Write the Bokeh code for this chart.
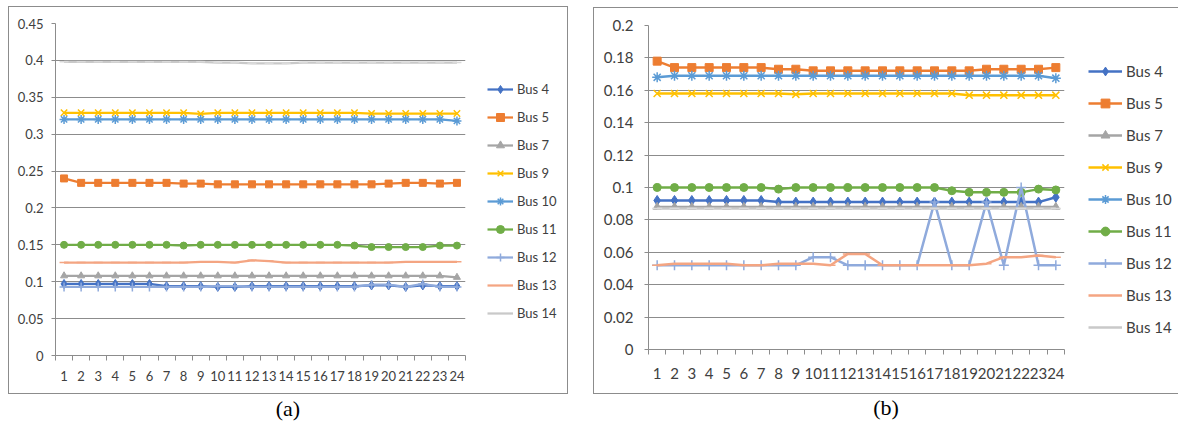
from bokeh.plotting import figure
from bokeh.models import FixedTicker, Legend, LegendItem, Range1d, Div
from bokeh.layouts import row, column
from bokeh.embed import file_html
from bokeh.resources import INLINE

hours = list(range(1, 25))
bus_names = ["Bus 4", "Bus 5", "Bus 7", "Bus 9", "Bus 10", "Bus 11", "Bus 12", "Bus 13", "Bus 14"]

# ---- panel (a) ----
a_bus4 = [0.097, 0.097, 0.097, 0.097, 0.097, 0.097, 0.094, 0.094, 0.094, 0.093, 0.093, 0.094,
          0.094, 0.094, 0.094, 0.094, 0.094, 0.094, 0.095, 0.095, 0.093, 0.095, 0.094, 0.094]
a_bus5 = [0.240, 0.234, 0.234, 0.234, 0.234, 0.234, 0.234, 0.233, 0.233, 0.232, 0.232, 0.232,
          0.232, 0.232, 0.232, 0.232, 0.232, 0.232, 0.232, 0.233, 0.234, 0.234, 0.233, 0.234]
a_bus7 = [0.108] * 23 + [0.106]
a_bus9 = [0.329, 0.329, 0.329, 0.329, 0.329, 0.329, 0.329, 0.329, 0.3275, 0.329, 0.329, 0.329,
          0.329, 0.329, 0.329, 0.329, 0.329, 0.329, 0.328, 0.328, 0.328, 0.328, 0.328, 0.328]
a_bus10 = [0.320] * 23 + [0.318]
a_bus11 = [0.150, 0.150, 0.150, 0.150, 0.150, 0.150, 0.150, 0.149, 0.150, 0.150, 0.150, 0.150,
           0.150, 0.150, 0.150, 0.150, 0.150, 0.149, 0.147, 0.147, 0.147, 0.147, 0.149, 0.149]
a_bus12 = [0.093, 0.093, 0.093, 0.093, 0.093, 0.093, 0.093, 0.093, 0.093, 0.094, 0.094, 0.093,
           0.093, 0.093, 0.093, 0.093, 0.093, 0.093, 0.096, 0.096, 0.093, 0.097, 0.093, 0.093]
a_bus13 = [0.126, 0.126, 0.126, 0.126, 0.126, 0.126, 0.126, 0.126, 0.127, 0.127, 0.126, 0.129,
           0.128, 0.126, 0.126, 0.126, 0.126, 0.126, 0.126, 0.126, 0.127, 0.127, 0.127, 0.127]
a_bus14 = [0.398, 0.398, 0.398, 0.398, 0.398, 0.398, 0.398, 0.398, 0.398, 0.397, 0.397, 0.396,
           0.396, 0.396, 0.397, 0.397, 0.397, 0.397, 0.397, 0.397, 0.397, 0.397, 0.397, 0.397]
a_ytick_labels = ["0", "0.05", "0.1", "0.15", "0.2", "0.25", "0.3", "0.35", "0.4", "0.45"]

# ---- panel (b) ----
b_bus4 = [0.092] * 7 + [0.091] * 16 + [0.094]
b_bus5 = [0.178, 0.174, 0.174, 0.174, 0.174, 0.174, 0.174, 0.173, 0.173, 0.172, 0.172, 0.172,
          0.172, 0.172, 0.172, 0.172, 0.172, 0.172, 0.172, 0.173, 0.173, 0.173, 0.173, 0.174]
b_bus7 = [0.088] * 24
b_bus9 = [0.158, 0.158, 0.158, 0.158, 0.158, 0.158, 0.158, 0.158, 0.1575, 0.158, 0.158, 0.158,
          0.158, 0.158, 0.158, 0.158, 0.158, 0.158, 0.157, 0.157, 0.157, 0.157, 0.157, 0.157]
b_bus10 = [0.168] + [0.169] * 22 + [0.1675]
b_bus11 = [0.100, 0.100, 0.100, 0.100, 0.100, 0.100, 0.100, 0.099, 0.100, 0.100, 0.100, 0.100,
           0.100, 0.100, 0.100, 0.100, 0.100, 0.098, 0.097, 0.097, 0.097, 0.097, 0.099, 0.0985]
b_bus12 = [0.052, 0.052, 0.052, 0.052, 0.052, 0.052, 0.052, 0.052, 0.052, 0.057, 0.057, 0.052,
           0.052, 0.052, 0.052, 0.052, 0.091, 0.052, 0.052, 0.091, 0.052, 0.100, 0.052, 0.052]
b_bus13 = [0.052, 0.053, 0.053, 0.053, 0.053, 0.052, 0.052, 0.053, 0.053, 0.053, 0.052, 0.059,
           0.059, 0.052, 0.052, 0.052, 0.052, 0.052, 0.052, 0.053, 0.057, 0.057, 0.058, 0.057]
b_bus14 = [0.087] * 24
b_ytick_labels = ["0", "0.02", "0.04", "0.06", "0.08", "0.1", "0.12", "0.14", "0.16", "0.18", "0.2"]

colors = ["#4472C4", "#ED7D31", "#A5A5A5", "#FFC000", "#5B9BD5", "#70AD47", "#8FAADC", "#F4A582", "#C9C9C9"]
markers = ["diamond", "square", "triangle", "x", "asterisk", "circle", "cross", "dash", "dash"]
marker_colors = ["#4472C4", "#ED7D31", "#A5A5A5", "#FFC000", "#5B9BD5", "#70AD47", "#8FAADC", "#F4A582", "#DADADA"]
filled = {"diamond", "square", "triangle", "circle"}

FONT = "Lato"
TXT = "#404040"
GRID = "#8c8c8c"
BOX = "1px solid #8c8c8c"


def draw_series(p, xs, ys, c, m, mc, g):
    lr = p.line(xs, ys, line_color=c, line_width=g["lw"])
    if m in filled:
        sr = p.scatter(xs, ys, marker=m, size=g["ms"] + (2 if m == "diamond" else 0),
                       fill_color=c, line_color=c)
    else:
        sr = p.scatter(xs, ys, marker=m, size=g["ms"] + 2, line_color=mc,
                       line_width=1.5, fill_color=None)
    return lr, sr


def panel(series, ytick_labels, g):
    ymax = float(ytick_labels[-1])
    p = figure(width=g["w"], height=g["h"], output_backend="svg", toolbar_location=None,
               x_range=Range1d(0.5, 24.5), y_range=Range1d(0, ymax),
               min_border_left=g["bl"], min_border_right=g["br"],
               min_border_top=g["bt"], min_border_bottom=g["bb"])
    p.outline_line_color = None
    p.background_fill_color = "white"
    p.border_fill_color = "white"
    p.xgrid.grid_line_color = None
    p.ygrid.grid_line_color = GRID
    p.ygrid.grid_line_width = 1

    yticks = [float(s) for s in ytick_labels]
    p.yaxis.ticker = FixedTicker(ticks=yticks)
    p.yaxis.major_label_overrides = {float(s): s for s in ytick_labels}
    p.yaxis.axis_line_color = GRID
    p.yaxis.major_tick_line_color = GRID
    p.yaxis.major_tick_out = 4
    p.yaxis.major_tick_in = 0
    p.yaxis.minor_tick_line_color = None
    p.yaxis.major_label_standoff = g["ystand"]

    p.xaxis.ticker = FixedTicker(ticks=hours, minor_ticks=[h - 0.5 for h in hours] + [24.5])
    p.xaxis.axis_line_color = GRID
    p.xaxis.major_tick_line_color = None
    p.xaxis.major_tick_out = 0
    p.xaxis.major_tick_in = 0
    p.xaxis.minor_tick_line_color = GRID
    p.xaxis.minor_tick_out = 5
    p.xaxis.minor_tick_in = 0
    p.xaxis.major_label_standoff = g["xstand"]

    for ax in (p.xaxis, p.yaxis):
        ax.major_label_text_font = FONT
        ax.major_label_text_font_size = g["fs"]
        ax.major_label_text_color = TXT

    for ys, c, m, mc in zip(series, colors, markers, marker_colors):
        draw_series(p, hours, ys, c, m, mc, g)

    # legend lives in its own narrow figure, to the right of the plot area;
    # its ranges are set away from the data so only the legend keys show
    lf = figure(width=g["lw_fig"], height=g["h"], output_backend="svg", toolbar_location=None,
                x_range=Range1d(-2, -1), y_range=Range1d(-2, -1),
                min_border_left=0, min_border_right=0,
                min_border_top=g["bt"], min_border_bottom=g["bb"])
    lf.axis.visible = False
    lf.grid.visible = False
    lf.outline_line_color = None
    lf.background_fill_color = "white"
    lf.border_fill_color = "white"
    items = []
    for name, ys, c, m, mc in zip(bus_names, series, colors, markers, marker_colors):
        lr, sr = draw_series(lf, hours, ys, c, m, mc, g)
        if m == "dash":
            items.append(LegendItem(label=name, renderers=[lr]))
        else:
            items.append(LegendItem(label=name, renderers=[lr, sr]))
    legend = Legend(items=items, location=g["lloc"], orientation="vertical",
                    glyph_width=g["gw"], glyph_height=g["gh"], label_height=g["gh"],
                    spacing=g["sp"], padding=0, margin=0, label_standoff=4,
                    label_text_font=FONT, label_text_font_size=g["lfs"], label_text_color=TXT,
                    border_line_color=None, background_fill_alpha=0)
    lf.add_layout(legend)
    return row(p, lf, margin=g["margin"], styles=g["styles"])


ga = dict(w=460, h=386, bl=46, br=4, bt=16, bb=38, ystand=8, xstand=10, fs="13px",
          lw=2.25, ms=7, lw_fig=98, lloc=(18, 32), gw=26, gh=20, sp=8, lfs="13px",
          margin=(6, 0, 0, 8), styles={"border": BOX})
gb = dict(w=474, h=385, bl=54, br=4, bt=17, bb=44, ystand=11, xstand=13, fs="15px",
          lw=2.5, ms=8, lw_fig=110, lloc=(20, 11), gw=34, gh=22, sp=10, lfs="15px",
          margin=(7, 0, 0, 25), styles={"border-left": BOX, "border-top": BOX, "border-bottom": BOX})

ra = panel([a_bus4, a_bus5, a_bus7, a_bus9, a_bus10, a_bus11, a_bus12, a_bus13, a_bus14], a_ytick_labels, ga)
rb = panel([b_bus4, b_bus5, b_bus7, b_bus9, b_bus10, b_bus11, b_bus12, b_bus13, b_bus14], b_ytick_labels, gb)

CAP = {"font-family": "Liberation Serif", "font-size": "22px", "line-height": "24px",
       "text-align": "center", "color": "#000000"}
cap_a = Div(text="(a)", width=560, height=28, margin=(3, 0, 0, 8), styles=CAP)
cap_b = Div(text="(b)", width=586, height=28, margin=(2, 0, 0, 25), styles=CAP)

layout = row(column(ra, cap_a), column(rb, cap_b))
open("out.html", "w").write(file_html(layout, INLINE))
